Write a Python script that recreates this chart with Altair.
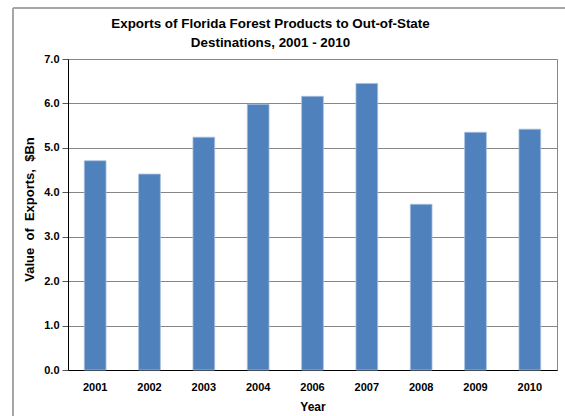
import altair as alt
import pandas as pd

years = ["2001", "2002", "2003", "2004", "2006", "2007", "2008", "2009", "2010"]
values = [4.71, 4.41, 5.24, 5.98, 6.16, 6.45, 3.73, 5.35, 5.42]

df = pd.DataFrame({"Year": years, "Value": values})

FONT = "Liberation Sans"

bars = alt.Chart(df).mark_bar(
    color="#4F81BD", stroke="#A7C0DE", strokeWidth=0.8
).encode(
    x=alt.X("Year:N", sort=years,
            scale=alt.Scale(paddingInner=0.6, paddingOuter=0.3),
            axis=alt.Axis(title="Year", labelAngle=0, ticks=False,
                          labelPadding=11, titlePadding=9,
                          domainColor="#000000", grid=False)),
    y=alt.Y("Value:Q", scale=alt.Scale(domain=[0, 7], nice=False),
            axis=alt.Axis(title="Value\u00a0 of\u00a0 Exports,\u00a0 $Bn",
                          values=[0, 1, 2, 3, 4, 5, 6, 7],
                          format=".1f", grid=True, gridColor="#868686",
                          tickColor="#555555", tickSize=6, labelPadding=3,
                          domainColor="#000000", titlePadding=7,
                          titleFontSize=13, titleY=150)),
)

# decorative outer frame (left and top edges visible in the reference)
frame_left = alt.Chart(df).mark_rule(color="#A6A6A6", strokeWidth=1.5).encode(
    x=alt.value(-55), y=alt.value(-51), y2=alt.value(360))
frame_top = alt.Chart(df).mark_rule(color="#A6A6A6", strokeWidth=1.5).encode(
    x=alt.value(-55), x2=alt.value(500), y=alt.value(-51))

chart = alt.layer(bars, frame_left, frame_top).properties(
    width=489, height=311,
    autosize=alt.AutoSizeParams(type="none"),
    padding={"left": 68, "top": 59, "right": 8, "bottom": 46},
    title=alt.TitleParams(
        text=["Exports of Florida Forest Products to Out-of-State",
              "Destinations, 2001 - 2010"],
        font=FONT, fontSize=13.4, fontWeight="bold", color="#000000",
        lineHeight=19, offset=-42, anchor="middle", dx=-42, frame="group"),
).configure(
    background="#ffffff"
).configure_axis(
    labelFont=FONT, labelFontSize=11, labelFontWeight="bold", labelColor="#000000",
    titleFont=FONT, titleFontSize=12, titleFontWeight="bold", titleColor="#000000",
).configure_view(
    stroke="#868686", strokeWidth=1
)

chart.save("out.html", embed_options={"renderer": "svg", "actions": False})
